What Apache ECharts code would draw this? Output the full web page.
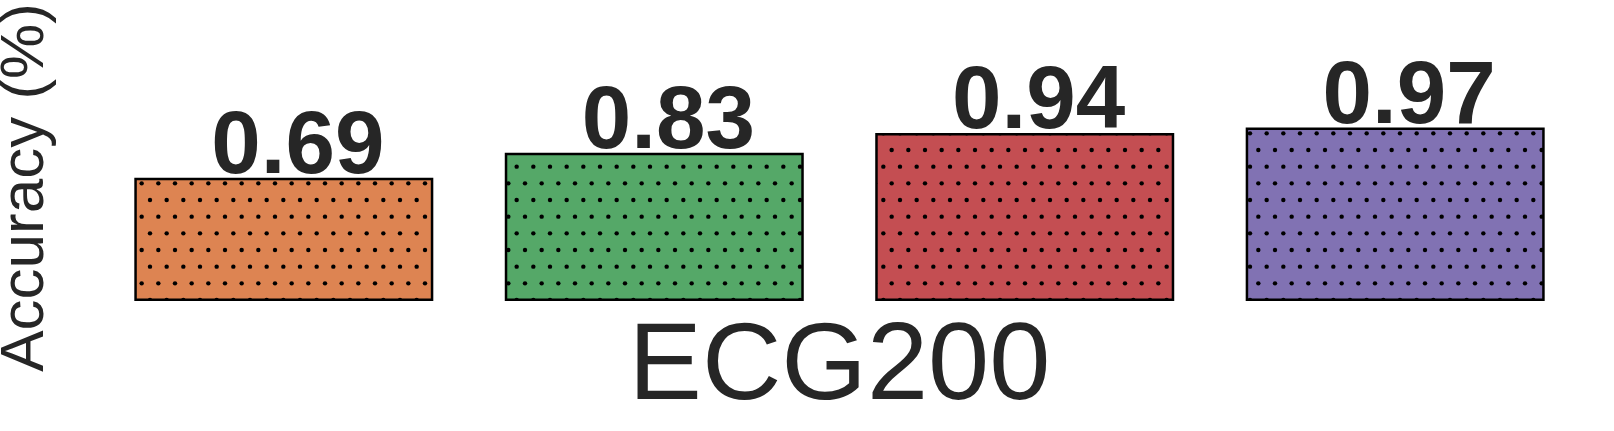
<!DOCTYPE html>
<html>
<head>
<meta charset="utf-8">
<script src="https://cdn.jsdelivr.net/npm/echarts@6/dist/echarts.min.js"></script>
<style>
  html, body { margin: 0; padding: 0; background: #fff; }
  #chart { width: 1614px; height: 431px; }
</style>
</head>
<body>
<div id="chart"></div>
<script>
const categories = ['ECG200'];
const seriesNames = ['Method 1', 'Method 2', 'Method 3', 'Method 4'];
const accuracy = [0.69, 0.83, 0.94, 0.97];
const colors = ['#DD8452', '#55A868', '#C44E52', '#8172B3'];

const FONT = '"Liberation Sans", Arial, sans-serif';
const TEXT = '#262626';

// dotted hatch, drawn on a small canvas and repeated
function dotPattern(fill) {
  const c = document.createElement('canvas');
  c.width = 50;
  c.height = 100;
  const ctx = c.getContext('2d');
  ctx.fillStyle = fill;
  ctx.fillRect(0, 0, 50, 100);
  ctx.fillStyle = '#000';
  const step = 50 / 3;
  for (let r = 0; r <= 6; r++) {
    const y = r * step;
    const off = (r % 2) * step / 2;
    for (let k = -1; k < 4; k++) {
      ctx.beginPath();
      ctx.arc(k * step + off, y, 2.2, 0, Math.PI * 2);
      ctx.fill();
    }
  }
  return { image: c, repeat: 'repeat' };
}

const series = seriesNames.map((name, i) => ({
  name: name,
  type: 'bar',
  data: [accuracy[i]],
  barWidth: 299,
  barGap: '23.9%',
  itemStyle: {
    color: dotPattern(colors[i]),
    borderColor: '#000',
    borderWidth: 2.5
  },
  label: {
    show: true,
    position: 'top',
    distance: -15,
    offset: [14, 0],
    formatter: p => p.value.toFixed(2),
    fontFamily: FONT,
    fontSize: 89,
    fontWeight: 'bold',
    color: TEXT
  }
}));

const chart = echarts.init(document.getElementById('chart'));
chart.setOption({
  animation: false,
  grid: { left: 98, right: 33, top: 74, bottom: 130, outerBoundsMode: 'none', containLabel: false },
  xAxis: {
    type: 'category',
    data: categories,
    axisLine: { show: false },
    axisTick: { show: false },
    axisLabel: {
      margin: 13,
      fontFamily: FONT,
      fontSize: 110,
      color: TEXT
    }
  },
  yAxis: {
    type: 'value',
    min: 0,
    max: 1.27,
    axisLine: { show: false },
    axisTick: { show: false },
    axisLabel: { show: false },
    splitLine: { show: false },
    name: 'Accuracy (%)',
    nameLocation: 'middle',
    nameRotate: 90,
    nameGap: 41,
    nameTextStyle: {
      fontFamily: FONT,
      fontSize: 62,
      color: TEXT
    }
  },
  series: series
});
</script>
</body>
</html>
